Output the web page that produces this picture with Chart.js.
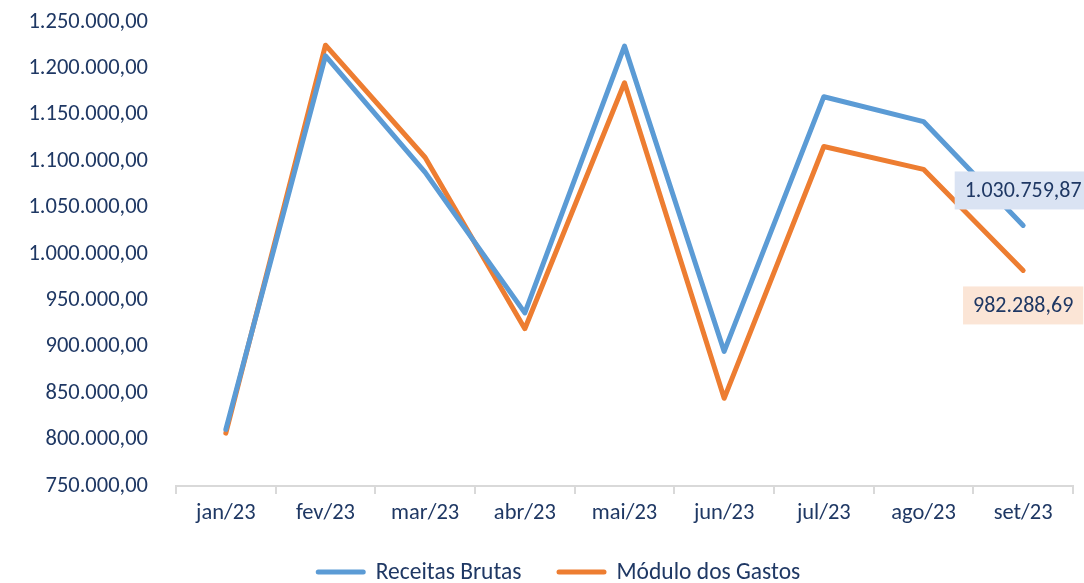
<!DOCTYPE html>
<html>
<head>
<meta charset="utf-8">
<script src="https://cdn.jsdelivr.net/npm/chart.js@4/dist/chart.umd.min.js"></script>
<style>
html,body{margin:0;padding:0;background:#fff;}
#wrap{width:1084px;height:583px;position:relative;}
</style>
</head>
<body>
<div id="wrap"><canvas id="c" width="1084" height="583"></canvas></div>
<script>
const categories = ["jan/23","fev/23","mar/23","abr/23","mai/23","jun/23","jul/23","ago/23","set/23"];
const receitasBrutas = [811000, 1213500, 1088000, 936500, 1224000, 895000, 1169500, 1142700, 1030759.87];
const moduloGastos   = [807000, 1225000, 1104000, 919500, 1184500, 844500, 1115800, 1091200, 982288.69];
const yTicks = [750000, 800000, 850000, 900000, 950000, 1000000, 1050000, 1100000, 1150000, 1200000, 1250000];

const FONT = "Carlito, Lato, 'Noto Sans', sans-serif";
const NAVY = "#1F3864";
const BLUE = "#5B9BD5";
const ORANGE = "#ED7D31";

function fmtBR(v, dec){
  const s = v.toFixed(dec);
  let [i, d] = s.split(".");
  i = i.replace(/\B(?=(\d{3})+(?!\d))/g, ".");
  return d ? i + "," + d : i;
}

const lastLabelPlugin = {
  id: "lastLabel",
  afterDatasetsDraw(chart){
    const ctx = chart.ctx;
    const cfg = [
      {ds:0, bg:"#DAE3F3", dir:-1},
      {ds:1, bg:"#FBE5D6", dir:1}
    ];
    ctx.save();
    ctx.font = "22px " + FONT;
    ctx.textBaseline = "middle";
    ctx.textAlign = "center";
    cfg.forEach(c => {
      const meta = chart.getDatasetMeta(c.ds);
      const data = chart.data.datasets[c.ds].data;
      const idx = data.length - 1;
      const pt = meta.data[idx];
      const txt = fmtBR(data[idx], 2);
      const w = ctx.measureText(txt).width + 20;
      const h = 38;
      const cy = pt.y + c.dir * 35;
      ctx.fillStyle = c.bg;
      ctx.fillRect(pt.x - w/2, cy - h/2, w, h);
      ctx.fillStyle = NAVY;
      ctx.fillText(txt, pt.x, cy + 1);
    });
    ctx.restore();
  }
};

const legendPlugin = {
  id: "customLegend",
  afterDraw(chart){
    const ctx = chart.ctx;
    const ds = chart.data.datasets;
    ctx.save();
    ctx.font = "23.5px " + FONT;
    ctx.textBaseline = "middle";
    ctx.textAlign = "left";
    const sw = 50, gap = 10, itemGap = 35;
    const widths = ds.map(d => sw + gap + ctx.measureText(d.label).width);
    const total = widths.reduce((a,b)=>a+b,0) + itemGap*(ds.length-1);
    let x = chart.width/2 + 16 - total/2;
    const y = chart.height - 11;
    ds.forEach((d,i) => {
      ctx.strokeStyle = d.borderColor;
      ctx.lineWidth = 5;
      ctx.lineCap = "round";
      ctx.beginPath();
      ctx.moveTo(x + 2.5, y);
      ctx.lineTo(x + sw - 2.5, y);
      ctx.stroke();
      ctx.fillStyle = NAVY;
      ctx.fillText(d.label, x + sw + gap, y + 1);
      x += widths[i] + itemGap;
    });
    ctx.restore();
  }
};

new Chart(document.getElementById("c"), {
  type: "line",
  data: {
    labels: categories,
    datasets: [
      {label:"Receitas Brutas", data: receitasBrutas, borderColor: BLUE, backgroundColor: BLUE, borderWidth: 5, pointRadius: 0, tension: 0, borderCapStyle:"round", borderJoinStyle:"round"},
      {label:"Módulo dos Gastos", data: moduloGastos, borderColor: ORANGE, backgroundColor: ORANGE, borderWidth: 5, pointRadius: 0, tension: 0, borderCapStyle:"round", borderJoinStyle:"round"}
    ]
  },
  options: {
    responsive: false,
    animation: false,
    devicePixelRatio: 1,
    layout: {padding: {top: 22, right: 11, left: 0, bottom: 50}},
    plugins: {
      tooltip: {enabled: false},
      legend: {display: false}
    },
    scales: {
      x: {
        offset: true,
        grid: {display: true, drawOnChartArea: false, drawTicks: true, tickLength: 8, color: "#D9D9D9", lineWidth: 2, offset: true},
        border: {display: true, color: "#D9D9D9", width: 2},
        ticks: {color: NAVY, font: {family: FONT, size: 22.5}, padding: 6, maxRotation: 0}
      },
      y: {
        min: 750000, max: 1250000,
        afterBuildTicks(scale){ scale.ticks = yTicks.map(v => ({value: v})); },
        afterFit(scale){ scale.width = 176; },
        grid: {display: true, drawOnChartArea: false, drawTicks: true, tickLength: 28, color: "rgba(0,0,0,0)"},
        border: {display: false},
        ticks: {color: NAVY, font: {family: FONT, size: 22.5}, padding: 0, callback: v => fmtBR(v, 2)}
      }
    }
  },
  plugins: [lastLabelPlugin, legendPlugin]
});
</script>
</body>
</html>
